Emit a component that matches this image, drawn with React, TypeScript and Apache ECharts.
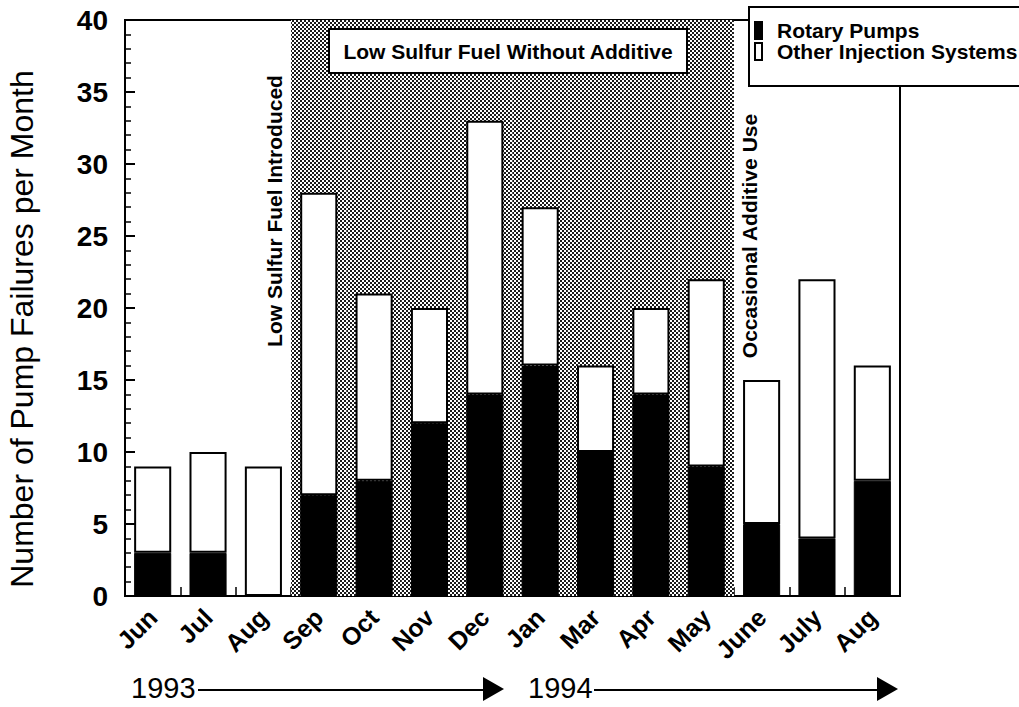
import React, { useEffect, useRef } from "react";
import * as echarts from "echarts";

const categories = ["Jun", "Jul", "Aug", "Sep", "Oct", "Nov", "Dec", "Jan", "Mar", "Apr", "May", "June", "July", "Aug"];
const rotaryPumps = [3, 3, 0, 7, 8, 12, 14, 16, 10, 14, 9, 5, 4, 8];
const otherSystems = [6, 7, 9, 21, 13, 8, 19, 11, 6, 6, 13, 10, 18, 8];
// Low sulfur fuel without additive period: Sep (1993) .. May (1994)
const lowSulfurPeriod = [null, null, null, 40, 40, 40, 40, 40, 40, 40, 40, null, null, null];
const yTicks = [0, 5, 10, 15, 20, 25, 30, 35, 40];

const FONT = "'Liberation Sans', Arial, Helvetica, sans-serif";

function makePattern() {
  const c = document.createElement("canvas");
  c.width = 4;
  c.height = 4;
  const ctx = c.getContext("2d")!;
  ctx.fillStyle = "#ffffff";
  ctx.fillRect(0, 0, 4, 4);
  ctx.fillStyle = "#1a1a1a";
  ctx.fillRect(0, 0, 2, 2);
  ctx.fillRect(2, 2, 2, 2);
  return { image: c, repeat: "repeat", imageWidth: 4, imageHeight: 4 } as any;
}

export default function App() {
  const ref = useRef<HTMLDivElement>(null);
  useEffect(() => {
    if (!ref.current) return;
    const chart = echarts.init(ref.current, null, { renderer: "svg" });
    const option: any = {
      animation: false,
      backgroundColor: "#ffffff",
      textStyle: { fontFamily: FONT, color: "#000" },
      grid: {
        left: 125,
        right: 119,
        top: 20,
        bottom: 111,
        containLabel: false,
        outerBoundsMode: "none",
        show: true,
        borderColor: "#000",
        borderWidth: 2,
        backgroundColor: "transparent",
      },
      legend: {
        data: ["Rotary Pumps", "Other Injection Systems"],
        orient: "vertical",
        left: 749,
        top: 7,
        padding: [13, 40, 24, 5],
        itemGap: 0,
        itemWidth: 7,
        itemHeight: 17,
        icon: "rect",
        borderColor: "#000",
        borderWidth: 2,
        backgroundColor: "#fff",
        selectedMode: false,
        z: 10,
        textStyle: {
          fontFamily: FONT,
          fontSize: 21,
          fontWeight: "bold",
          color: "#000",
          padding: [0, 0, 0, 10],
        },
      },
      xAxis: [
        {
          type: "category",
          data: categories,
          axisLine: { show: true, lineStyle: { color: "#000", width: 2 } },
          axisTick: { show: true, inside: true, length: 9, lineStyle: { color: "#000", width: 1.5 } },
          axisLabel: {
            interval: 0,
            rotate: 45,
            margin: 17,
            fontFamily: FONT,
            fontSize: 25,
            fontWeight: "bold",
            color: "#000",
          },
          splitLine: { show: false },
        },
        {
          type: "category",
          data: categories,
          show: false,
        },
      ],
      yAxis: {
        type: "value",
        min: 0,
        max: 40,
        interval: 5,
        name: "Number of Pump Failures per Month",
        nameLocation: "middle",
        nameGap: 87,
        nameRotate: 90,
        nameTextStyle: {
          fontFamily: FONT,
          fontSize: 32,
          color: "#000",
          padding: [0, 42, 0, 0],
        },
        axisLine: { show: true, lineStyle: { color: "#000", width: 2 } },
        axisTick: { show: true, inside: true, length: 10, lineStyle: { color: "#000", width: 2 } },
        minorTick: { show: true, splitNumber: 5, length: 6, lineStyle: { color: "#000", width: 1.5 } },
        splitLine: { show: false },
        axisLabel: {
          margin: 17,
          fontFamily: FONT,
          fontSize: 28,
          fontWeight: "bold",
          color: "#000",
          formatter: (v: number) => (yTicks.includes(v) ? String(v) : ""),
        },
      },
      series: [
        {
          name: "Low Sulfur Period",
          type: "bar",
          xAxisIndex: 1,
          data: lowSulfurPeriod,
          barWidth: "100%",
          itemStyle: { color: makePattern() },
          z: 1,
          silent: true,
        },
        {
          name: "Rotary Pumps",
          type: "bar",
          stack: "total",
          data: rotaryPumps,
          barCategoryGap: "33%",
          itemStyle: { color: "#000", borderColor: "#000", borderWidth: 1 },
          z: 3,
        },
        {
          name: "Other Injection Systems",
          type: "bar",
          stack: "total",
          data: otherSystems,
          barCategoryGap: "33%",
          itemStyle: { color: "#fff", borderColor: "#000", borderWidth: 2 },
          z: 3,
        },
      ],
      graphic: [
        {
          type: "rect",
          shape: { x: 329, y: 29, width: 358, height: 44 },
          style: { fill: "#fff", stroke: "#000", lineWidth: 2 },
          z: 20,
        },
        {
          type: "text",
          x: 508,
          y: 51,
          style: {
            text: "Low Sulfur Fuel Without Additive",
            fontFamily: FONT,
            fontSize: 21,
            fontWeight: "bold",
            fill: "#000",
            align: "center",
            verticalAlign: "middle",
          },
          z: 21,
        },
        {
          type: "text",
          x: 274,
          y: 211,
          rotation: Math.PI / 2,
          style: {
            text: "Low Sulfur Fuel Introduced",
            fontFamily: FONT,
            fontSize: 21,
            fontWeight: "bold",
            fill: "#000",
            align: "center",
            verticalAlign: "middle",
          },
          z: 21,
        },
        {
          type: "text",
          x: 749,
          y: 236,
          rotation: Math.PI / 2,
          style: {
            text: "Occasional Additive Use",
            fontFamily: FONT,
            fontSize: 21,
            fontWeight: "bold",
            fill: "#000",
            align: "center",
            verticalAlign: "middle",
          },
          z: 21,
        },
        {
          type: "text",
          x: 131,
          y: 688,
          style: {
            text: "1993",
            fontFamily: FONT,
            fontSize: 29,
            fill: "#000",
            align: "left",
            verticalAlign: "middle",
          },
        },
        {
          type: "line",
          shape: { x1: 198, y1: 690, x2: 486, y2: 690 },
          style: { stroke: "#000", lineWidth: 2 },
        },
        {
          type: "polygon",
          shape: { points: [[483, 677], [504, 689], [483, 701]] },
          style: { fill: "#000" },
        },
        {
          type: "text",
          x: 528,
          y: 688,
          style: {
            text: "1994",
            fontFamily: FONT,
            fontSize: 29,
            fill: "#000",
            align: "left",
            verticalAlign: "middle",
          },
        },
        {
          type: "line",
          shape: { x1: 594, y1: 690, x2: 880, y2: 690 },
          style: { stroke: "#000", lineWidth: 2 },
        },
        {
          type: "polygon",
          shape: { points: [[877, 677], [898, 689], [877, 701]] },
          style: { fill: "#000" },
        },
      ],
    };
    chart.setOption(option);
    return () => chart.dispose();
  }, []);
  return (
    <div
      ref={ref}
      style={{ position: "fixed", left: 0, top: 0, width: 1019, height: 707, background: "#fff" }}
    />
  );
}
